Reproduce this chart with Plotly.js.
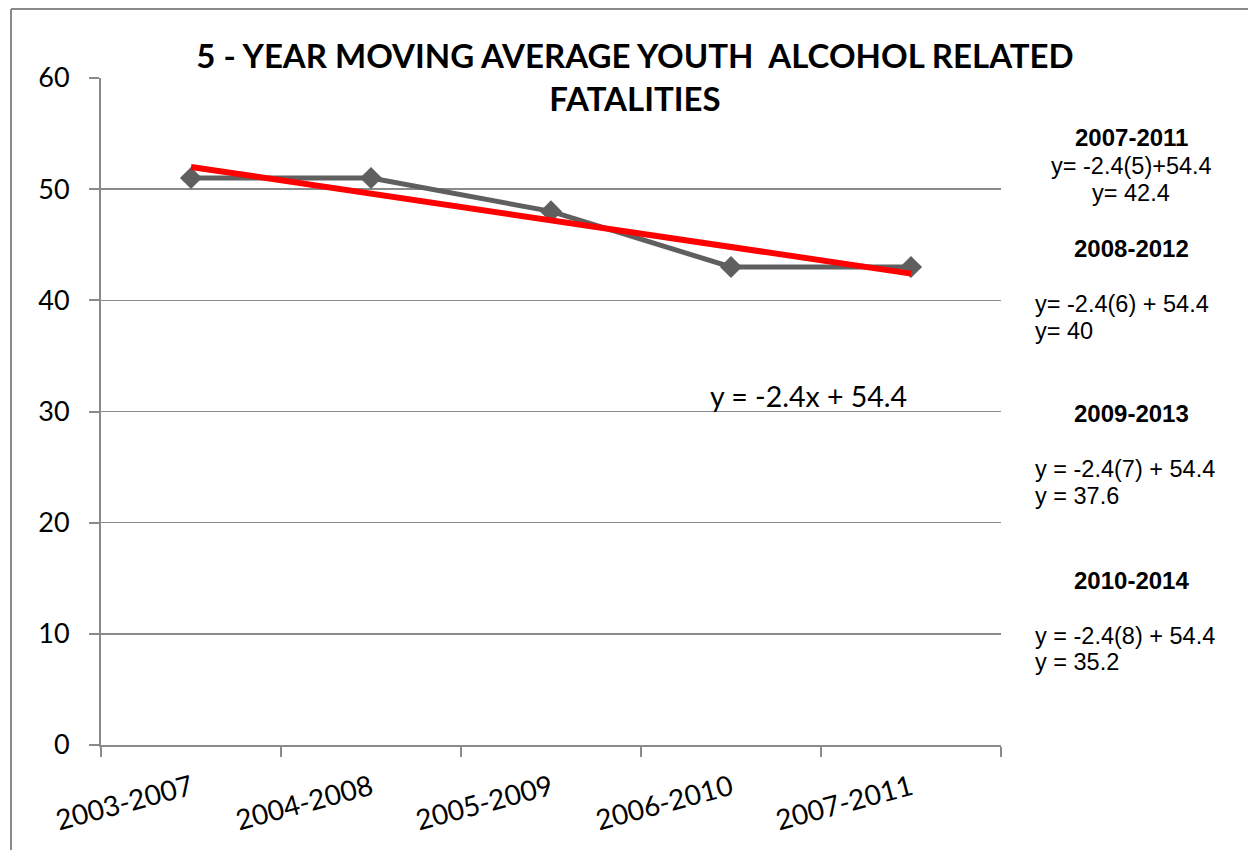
<!DOCTYPE html>
<html>
<head>
<meta charset="utf-8">
<script src="https://cdn.plot.ly/plotly-3.0.1.min.js"></script>
<style>
  html, body { margin: 0; padding: 0; background: #fff; }
  #chart { width: 1248px; height: 850px; }
</style>
</head>
<body>
<div id="chart"></div>
<script>
// ---- data ----
const categories = ["2003-2007", "2004-2008", "2005-2009", "2006-2010", "2007-2011"];
const fatalities = [51, 51, 48, 43, 43];
const trendValues = [52, 49.6, 47.2, 44.8, 42.4];
const trendLabel = "y = -2.4x + 54.4";
const titleText = "5 - YEAR MOVING AVERAGE YOUTH  ALCOHOL RELATED<br>FATALITIES";

const projHeadings = ["2007-2011", "2008-2012", "2009-2013", "2010-2014"];
const projEquations = ["y= -2.4(5)+54.4", "y= -2.4(6) + 54.4", "y = -2.4(7) + 54.4", "y = -2.4(8) + 54.4"];
const projResults = ["y= 42.4", "y= 40", "y = 37.6", "y = 35.2"];

// ---- layout geometry ----
const W = 1248, H = 850;
const L = 101, R = 1001, T = 78, B = 745;
const px = x => (x - L) / (R - L);
const py = y => (B - y) / (B - T);

const traces = [
  {
    x: categories, y: fatalities, type: "scatter", mode: "lines+markers",
    line: { color: "#5f5f5f", width: 5 },
    marker: { symbol: "diamond", size: 17, color: "#5f5f5f" },
    hoverinfo: "x+y", showlegend: false
  },
  {
    x: categories, y: trendValues, type: "scatter", mode: "lines",
    line: { color: "#ff0000", width: 6 },
    hoverinfo: "skip", showlegend: false
  }
];

const armFont = { family: "Liberation Sans, Arial, sans-serif", size: 23.5, color: "#000" };
const armBold = { family: "Liberation Sans, Arial, sans-serif", size: 24, color: "#000", weight: "bold" };

const annotations = [
  { text: trendLabel, xref: "paper", yref: "paper", x: px(808), y: py(396),
    xanchor: "center", yanchor: "middle", showarrow: false,
    font: { family: "Lato, sans-serif", size: 28.5, color: "#000" } },
  // 2007-2011 block (centered)
  { text: "<b>" + projHeadings[0] + "</b>", x: px(1131), y: py(137), xanchor: "center", font: armBold },
  { text: projEquations[0], x: px(1131), y: py(166), xanchor: "center", font: armFont },
  { text: projResults[0], x: px(1131), y: py(193), xanchor: "center", font: armFont },
  // 2008-2012
  { text: "<b>" + projHeadings[1] + "</b>", x: px(1131), y: py(248), xanchor: "center", font: armBold },
  { text: projEquations[1], x: px(1033), y: py(304), xanchor: "left", font: armFont },
  { text: projResults[1], x: px(1033), y: py(331), xanchor: "left", font: armFont },
  // 2009-2013
  { text: "<b>" + projHeadings[2] + "</b>", x: px(1131), y: py(413), xanchor: "center", font: armBold },
  { text: projEquations[2], x: px(1033), y: py(469), xanchor: "left", font: armFont },
  { text: projResults[2], x: px(1033), y: py(496), xanchor: "left", font: armFont },
  // 2010-2014
  { text: "<b>" + projHeadings[3] + "</b>", x: px(1131), y: py(580), xanchor: "center", font: armBold },
  { text: projEquations[3], x: px(1033), y: py(636), xanchor: "left", font: armFont },
  { text: projResults[3], x: px(1033), y: py(662), xanchor: "left", font: armFont }
].map(a => Object.assign({ xref: "paper", yref: "paper", yanchor: "middle", showarrow: false }, a));

const layout = {
  width: W, height: H,
  margin: { l: L, r: W - R, t: T, b: H - B, pad: 0 },
  paper_bgcolor: "#fff", plot_bgcolor: "#fff",
  title: {
    text: titleText,
    font: { family: "Lato, sans-serif", size: 33, color: "#000", weight: "bold" },
    xref: "paper", x: px(635), xanchor: "center",
    yref: "container", y: 1 - 68 / H, yanchor: "middle"
  },
  xaxis: {
    type: "category", range: [-0.5, 4.5], fixedrange: true,
    showline: true, linecolor: "#8a8a8a", linewidth: 2,
    showgrid: false, zeroline: false,
    ticks: "outside", tickson: "boundaries", ticklen: 10, tickwidth: 2, tickcolor: "#8a8a8a",
    tickangle: -15, ticklabelstandoff: 14,
    tickfont: { family: "Lato, sans-serif", size: 28, color: "#000" }
  },
  yaxis: {
    range: [0, 60], dtick: 10, fixedrange: true,
    showline: true, linecolor: "#8a8a8a", linewidth: 2,
    showgrid: true, gridcolor: "#8a8a8a", gridwidth: 1.5, zeroline: false,
    ticks: "outside", ticklen: 10, tickwidth: 2, tickcolor: "#8a8a8a",
    ticklabelstandoff: 14,
    tickfont: { family: "Lato, sans-serif", size: 27, color: "#000" }
  },
  annotations: annotations,
  shapes: [
    { type: "line", xref: "paper", yref: "paper", x0: px(11), x1: px(1260), y0: py(9), y1: py(9),
      line: { color: "#8a8a8a", width: 2 } },
    { type: "line", xref: "paper", yref: "paper", x0: px(11), x1: px(11), y0: py(9), y1: py(860),
      line: { color: "#8a8a8a", width: 2 } }
  ],
  showlegend: false
};

Plotly.newPlot("chart", traces, layout, { staticPlot: true, displayModeBar: false });
</script>
</body>
</html>
